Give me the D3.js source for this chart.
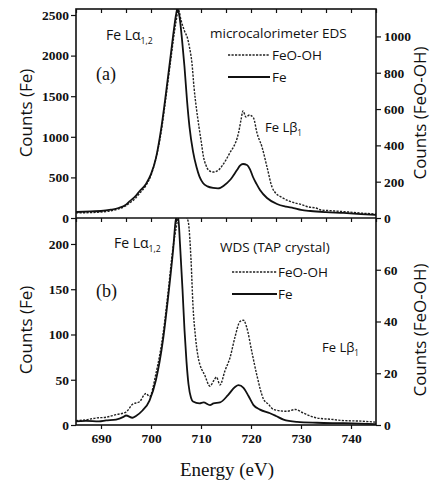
<!DOCTYPE html>
<html><head><meta charset="utf-8">
<script src="https://cdn.jsdelivr.net/npm/d3@7/dist/d3.min.js"></script>
<style>body{margin:0;background:#fff}</style>
</head><body>
<svg id="c" width="431" height="484"></svg>
<script>
// ---- data ----
const xTicksMajor = [690,700,710,720,730,740];
const xTicksMinor = [685,690,695,700,705,710,715,720,725,730,735,740,745];
const topLeftTicks = [0,500,1000,1500,2000,2500];
const topRightTicks = [0,200,400,600,800,1000];
const botLeftTicks = [0,50,100,150,200];
const botRightTicks = [0,20,40,60];

// (a) microcalorimeter EDS
const aFeE = [685,688,690,692,693.5,695,695.7,697,697.7,699,700,701,702,703,704,704.6,705,705.3,705.7,706.2,706.7,707.2,707.7,708.4,709.1,709.7,710.4,711.3,712.4,713.4,714.6,715.8,717.2,717.8,718.4,719.2,719.8,720.4,721.1,721.8,723.2,725.2,727,728.5,730,731.9,735,738.5,742,745];
const aFeV = [74,82,86,102,123,165,205,275,330,420,540,740,1084,1540,2033,2330,2500,2575,2480,2200,1860,1450,1121,820,628,510,431,390,370,365,400,468,591,645,665,653,600,505,420,345,246,172,140,123,100,86,72,62,48,37];
const aOxE = [685,688,690,692,693.5,695,695.7,697,697.7,699,700,701,702,703,704,705,705.5,706,706.7,707.3,707.7,708.2,708.6,709.1,709.6,710.1,710.5,711,711.5,712.5,713.5,714.3,715,716,716.5,717.5,718,718.4,719,719.7,720.5,721.2,722.2,723.2,724.2,725,726,727.5,728.8,730,731.5,733,734,736,739.5,742,745];
const aOxV = [28,30,33,40,50,68,82,112,135,180,235,330,468,667,882,1080,1146,1090,1030,990,940,850,720,600,501,410,336,290,264,253,264,290,320,370,391,468,540,590,556,567,551,468,391,281,171,135,116,95,83,75,61,55,44,40,33,27,22];

// (b) WDS (TAP crystal)
const bFeE = [685,687,689.6,691,693,694.5,695,696.3,697,698.3,699.7,701,702.4,703.4,704.4,705,705.4,705.8,706.3,706.7,707.1,707.5,708,708.4,709.7,710.5,711.8,712.5,713.8,715.4,716.8,717.5,718.5,719.5,720.5,721.8,723.8,725,726.5,729.2,733.2,738.6,745];
const bFeV = [4,4.5,4,5,6,9,10.5,8,10,16,27,50,94,140,192,228,232,200,150,105,70,45,30,26,24,25,22,24,25,33,42,44,41,32,22,17,13,10,6,3.5,2.5,2,1];
const bOxE = [685,687,689,691,693,695,696.3,697.7,699,699.7,701,702.4,703.4,704.4,705.2,705.6,706.6,707.2,707.5,708,708.4,708.9,709.4,710.8,711.8,712.5,713.1,713.8,714.8,715.8,716.8,717.8,718.5,719.1,720.2,721.2,722.5,723.5,724.5,727.2,728.9,730.5,733.2,736,738.6,742,745];
const bOxV = [1.7,2,2.7,3,4,5,8,9,12.2,11,20,35,51,68.5,78,82,84,80,78,64,46,34,26.5,19,15,17,18.5,15.5,21,26,34,40,40.5,38,28,19,10,8,6,5.3,6,4.6,2.7,2.2,1.7,1.5,1.1];

// ---- layout ----
const L = 76, R = 376, T = 9, M = 218, B = 425;
const svg = d3.select("#c");
const x = d3.scaleLinear().domain([685,745]).range([L,R]);
const serif = "Liberation Serif, Times New Roman, serif";
const sans = "Open Sans, Noto Sans, sans-serif";
const fmt = d3.format("d");

function styleTicks(a){
  a.attr("font-family", null).attr("font-size", null);
  a.select(".domain").remove();
  a.selectAll("line").attr("stroke","#111").attr("stroke-width",1.2);
  a.selectAll("text").style("font-family",serif).style("font-size","13.5px")
    .style("font-weight","bold").attr("fill","#111");
}

const panels = [
  {id:"a", top:T, bot:M, yL:d3.scaleLinear().domain([0,2574]).range([M,T]), yR:d3.scaleLinear().domain([0,1151]).range([M,T]),
   lt:topLeftTicks, rt:topRightTicks, fe:[aFeE,aFeV], ox:[aOxE,aOxV]},
  {id:"b", top:M, bot:B, yL:d3.scaleLinear().domain([0,228.7]).range([B,M]), yR:d3.scaleLinear().domain([0,80]).range([B,M]),
   lt:botLeftTicks, rt:botRightTicks, fe:[bFeE,bFeV], ox:[bOxE,bOxV]}
];

const defs = svg.append("defs");
panels.forEach(p => {
  defs.append("clipPath").attr("id","clip"+p.id).append("rect")
    .attr("x",L).attr("y",p.top).attr("width",R-L).attr("height",p.bot-p.top);
  const g = svg.append("g").attr("clip-path","url(#clip"+p.id+")");
  const lineL = d3.line().curve(d3.curveMonotoneX).x(d=>x(d[0])).y(d=>p.yL(d[1]));
  const lineR = d3.line().curve(d3.curveMonotoneX).x(d=>x(d[0])).y(d=>p.yR(d[1]));
  g.append("path").datum(d3.zip(p.ox[0],p.ox[1])).attr("d",lineR)
    .attr("fill","none").attr("stroke","#222").attr("stroke-width",1.4).attr("stroke-dasharray","2.2,1.3");
  g.append("path").datum(d3.zip(p.fe[0],p.fe[1])).attr("d",lineL)
    .attr("fill","none").attr("stroke","#111").attr("stroke-width",1.8);

  const ax = svg.append("g").attr("transform",`translate(${L},0)`)
    .call(d3.axisLeft(p.yL).tickValues(p.lt).tickFormat(fmt).tickSize(5).tickSizeOuter(0).tickPadding(2));
  const axr = svg.append("g").attr("transform",`translate(${R},0)`)
    .call(d3.axisRight(p.yR).tickValues(p.rt).tickFormat(fmt).tickSize(5).tickSizeOuter(0).tickPadding(3));
  styleTicks(ax); styleTicks(axr);
});

// x axes
const xTop = svg.append("g").attr("transform",`translate(0,${T})`)
  .call(d3.axisTop(x).tickValues(xTicksMinor).tickSize(-4).tickSizeOuter(0).tickFormat(""));
const xMid = svg.append("g").attr("transform",`translate(0,${M})`)
  .call(d3.axisBottom(x).tickValues(xTicksMinor).tickSize(4).tickSizeOuter(0).tickFormat(""));
const xBot = svg.append("g").attr("transform",`translate(0,${B})`)
  .call(d3.axisBottom(x).tickValues(xTicksMajor).tickFormat(fmt).tickSize(4).tickSizeOuter(0).tickPadding(4));
[xTop,xMid,xBot].forEach(styleTicks);

// frames
svg.append("rect").attr("x",L).attr("y",T).attr("width",R-L).attr("height",B-T)
  .attr("fill","none").attr("stroke","#111").attr("stroke-width",1.6);
svg.append("line").attr("x1",L).attr("x2",R).attr("y1",M).attr("y2",M)
  .attr("stroke","#111").attr("stroke-width",1.6);

// axis titles
function vtitle(txt, cx, cy, rot){
  svg.append("text").attr("transform",`translate(${cx},${cy}) rotate(${rot})`)
    .attr("text-anchor","middle").attr("dominant-baseline","middle")
    .style("font-family",sans).style("font-size","17px").attr("fill","#111").text(txt);
}
vtitle("Counts (Fe)", 27, 113, -90);
vtitle("Counts (Fe)", 27, 330, -90);
vtitle("Counts (FeO-OH)", 421, 113, -90);
vtitle("Counts (FeO-OH)", 421, 330, -90);
svg.append("text").attr("x",227).attr("y",476).attr("text-anchor","middle")
  .style("font-family",serif).style("font-size","19px").attr("fill","#111").text("Energy (eV)");

// annotations
function label(xp, yp, main, sub, size){
  const t = svg.append("text").attr("x",xp).attr("y",yp).style("font-family",sans)
    .style("font-size",size+"px").attr("fill","#111");
  t.append("tspan").text(main);
  if (sub) t.append("tspan").attr("dy",4).style("font-size",(size*0.62)+"px").text(sub);
}
label(106, 40, "Fe Lα", "1,2", 14);
label(114, 248, "Fe Lα", "1,2", 14);
label(265, 132, "Fe Lβ", "1", 13);
label(322, 352, "Fe Lβ", "1", 13);
svg.append("text").attr("x",96).attr("y",80).style("font-family",serif).style("font-size","18px").attr("fill","#111").text("(a)");
svg.append("text").attr("x",96).attr("y",297).style("font-family",serif).style("font-size","18px").attr("fill","#111").text("(b)");

function legend(title, tx, ty, lx1, lx2, y1, y2, textX){
  svg.append("text").attr("x",tx).attr("y",ty).style("font-family",sans).style("font-size","13.5px").attr("fill","#111").text(title);
  svg.append("line").attr("x1",lx1).attr("x2",lx2).attr("y1",y1).attr("y2",y1)
    .attr("stroke","#222").attr("stroke-width",1.4).attr("stroke-dasharray","2.2,1.3");
  svg.append("line").attr("x1",lx1).attr("x2",lx2).attr("y1",y2).attr("y2",y2)
    .attr("stroke","#111").attr("stroke-width",1.8);
  svg.append("text").attr("x",textX).attr("y",y1+5).style("font-family",sans).style("font-size","13.5px").attr("fill","#111").text("FeO-OH");
  svg.append("text").attr("x",textX).attr("y",y2+5).style("font-family",sans).style("font-size","13.5px").attr("fill","#111").text("Fe");
}
legend("microcalorimeter EDS", 210, 38, 228, 270, 55, 77, 272);
legend("WDS (TAP crystal)", 220, 252, 232, 277, 272, 294, 278);
</script>
</body></html>
